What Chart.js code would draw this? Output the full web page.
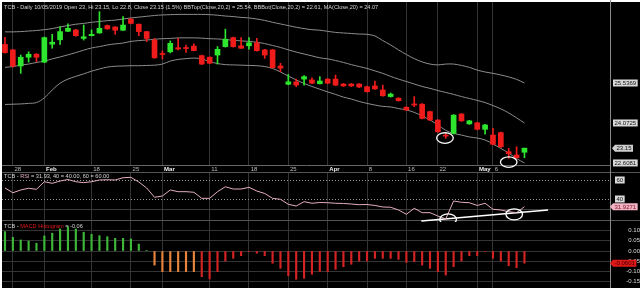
<!DOCTYPE html>
<html>
<head>
<meta charset="utf-8">
<script src="https://cdn.jsdelivr.net/npm/chart.js@4.4.1/dist/chart.umd.min.js"></script>
<style>
  html, body { margin: 0; padding: 0; background: #fff; }
  #frame { position: absolute; left: 2px; top: 2px; width: 638px; height: 286px; background: #000; }
  canvas { position: absolute; left: 0; }
</style>
</head>
<body>
<div id="frame"></div>
<canvas id="priceChart" width="640" height="174" style="top:0"></canvas>
<canvas id="rsiChart" width="640" height="50" style="top:172px"></canvas>
<canvas id="macdChart" width="640" height="66" style="top:222px"></canvas>
<script>
// date axis: trading-day index of each labelled gridline
const tickIdx = [1, 5, 11, 16, 20, 26, 31, 36, 41, 46, 51, 55, 60, 62];
const tickText = ['28', 'Feb', '18', '25', 'Mar', '11', '18', '25', 'Apr', '8', '16', '22', 'May', '6'];

// TCB daily, 25/01/2019 .. 10/05/2019
const opens = [26.95, 26.75, 26.16, 26.48, 26.59, 26.30, 26.96, 27.12, 27.43, 27.48,
  27.17, 27.27, 27.37, 27.64, 27.59, 27.47, 27.88, 27.69, 27.42, 27.11,
  26.60, 26.68, 26.83, 26.82, 26.89, 26.54, 26.48, 26.56, 26.87, 27.20,
  26.90, 26.90, 27.01, 26.75, 26.75, 26.16, 25.49, 25.58, 25.68, 25.65,
  25.51, 25.68, 25.68, 25.50, 25.50, 25.50, 25.40, 25.43, 25.28, 25.04,
  24.98, 24.65, 24.77, 24.76, 24.49, 24.18, 23.63, 23.69, 24.40, 24.04,
  24.08, 23.84, 23.63, 23.72, 23.02, 22.90, 23.00];
const highs = [27.21, 26.77, 26.56, 26.68, 26.62, 27.22, 27.32, 27.60, 27.70, 27.50,
  27.66, 27.48, 28.15, 27.66, 27.60, 27.97, 27.90, 27.70, 27.43, 27.17,
  26.71, 27.08, 27.17, 26.93, 26.97, 26.56, 26.50, 26.87, 27.51, 27.22,
  27.20, 27.20, 27.17, 26.77, 26.77, 26.26, 25.85, 25.68, 25.81, 25.73,
  25.77, 25.70, 25.83, 25.52, 25.52, 25.52, 25.42, 25.61, 25.46, 25.17,
  25.00, 24.67, 25.04, 24.78, 24.51, 24.20, 23.69, 24.38, 24.42, 24.17,
  24.10, 24.02, 23.88, 23.74, 23.14, 23.20, 23.15];
const lows = [26.63, 26.12, 25.89, 26.30, 26.32, 26.28, 26.81, 26.95, 27.42, 27.25,
  27.11, 27.26, 27.36, 27.50, 27.32, 27.46, 27.70, 27.27, 27.05, 26.44,
  26.42, 26.64, 26.75, 26.66, 26.71, 26.21, 26.24, 26.23, 26.85, 26.85,
  26.80, 26.78, 26.70, 26.44, 26.08, 25.95, 25.47, 25.40, 25.46, 25.51,
  25.50, 25.51, 25.44, 25.41, 25.41, 25.37, 25.20, 25.30, 25.05, 25.02,
  24.87, 24.53, 24.67, 24.22, 24.16, 23.73, 23.51, 23.67, 24.13, 24.02,
  23.82, 23.66, 23.27, 23.18, 22.78, 22.78, 22.80];
const closes = [26.65, 26.16, 26.48, 26.59, 26.48, 27.20, 27.03, 27.42, 27.54, 27.27,
  27.23, 27.32, 27.54, 27.52, 27.47, 27.66, 27.72, 27.42, 27.17, 26.46,
  26.58, 26.99, 26.78, 26.80, 26.72, 26.23, 26.26, 26.77, 27.14, 26.87,
  26.81, 27.01, 26.72, 26.56, 26.10, 26.08, 25.58, 25.46, 25.77, 25.53,
  25.61, 25.53, 25.46, 25.43, 25.43, 25.39, 25.22, 25.32, 25.07, 25.13,
  24.89, 24.55, 24.73, 24.24, 24.18, 23.75, 23.59, 24.36, 24.15, 24.15,
  23.84, 24.00, 23.29, 23.20, 22.95, 22.80, 23.15];

// Bollinger(20,2)
const bbTop = [27.41, 27.41, 27.42, 27.44, 27.46, 27.49, 27.53, 27.59, 27.64, 27.69,
  27.72, 27.76, 27.79, 27.82, 27.84, 27.88, 27.92, 27.95, 27.98, 28.01,
  28.03, 28.04, 28.05, 28.05, 28.05, 28.05, 28.04, 28.02, 27.99, 27.97,
  27.94, 27.92, 27.88, 27.83, 27.76, 27.70, 27.64, 27.58, 27.53, 27.49,
  27.47, 27.43, 27.39, 27.37, 27.35, 27.33, 27.32, 27.26, 27.09, 26.93,
  26.75, 26.58, 26.43, 26.31, 26.23, 26.20, 26.23, 26.23, 26.18, 26.11,
  26.01, 25.94, 25.89, 25.83, 25.76, 25.67, 25.5369];
const bbMid = [26.11, 26.14, 26.19, 26.23, 26.29, 26.34, 26.42, 26.49, 26.57, 26.65,
  26.74, 26.82, 26.87, 26.93, 26.97, 27.00, 27.06, 27.09, 27.11, 27.14,
  27.16, 27.17, 27.19, 27.19, 27.19, 27.18, 27.16, 27.15, 27.13, 27.10,
  27.08, 27.06, 27.03, 26.98, 26.91, 26.84, 26.75, 26.67, 26.60, 26.53,
  26.46, 26.42, 26.36, 26.29, 26.21, 26.14, 26.07, 25.98, 25.89, 25.78,
  25.68, 25.59, 25.50, 25.41, 25.34, 25.26, 25.19, 25.12, 25.04, 24.97,
  24.90, 24.82, 24.71, 24.59, 24.44, 24.26, 24.0725];
const bbBot = [24.75, 24.76, 24.77, 24.79, 24.82, 24.99, 25.28, 25.53, 25.68, 25.78,
  25.87, 25.97, 26.05, 26.12, 26.15, 26.16, 26.17, 26.17, 26.18, 26.19,
  26.23, 26.34, 26.40, 26.43, 26.45, 26.42, 26.32, 26.25, 26.21, 26.20,
  26.19, 26.18, 26.17, 26.14, 26.07, 25.94, 25.79, 25.65, 25.52, 25.41,
  25.31, 25.21, 25.12, 25.02, 24.95, 24.86, 24.79, 24.73, 24.68, 24.66,
  24.60, 24.55, 24.46, 24.33, 24.18, 24.00, 23.80, 23.69, 23.63, 23.56,
  23.52, 23.45, 23.30, 23.14, 22.97, 22.77, 22.6081];

const rsi = [51.6, 46.6, 49.5, 51.3, 50.2, 58.2, 56.5, 58.9, 60.5, 58.2,
  57.2, 58.2, 60.0, 60.3, 60.0, 62.4, 62.8, 57.9, 51.6, 41.8,
  43.2, 49.5, 47.7, 47.7, 47.1, 40.7, 40.7, 47.7, 52.9, 50.5,
  50.5, 52.3, 48.4, 45.8, 40.7, 39.7, 34.4, 32.6, 37.2, 35.5,
  36.3, 36.1, 35.5, 35.3, 34.7, 34.0, 34.2, 33.2, 31.6, 31.3,
  28.4, 23.9, 30.2, 25.6, 25.6, 22.1, 19.0, 37.9, 36.5, 36.1,
  33.2, 35.5, 29.2, 28.4, 26.6, 25.6, 31.9271];
const rsiLevels = [60, 40];

const macdHist = [0.095, 0.067, 0.054, 0.049, 0.038, 0.074, 0.087, 0.108, 0.119, 0.108,
  0.092, 0.082, 0.075, 0.070, 0.062, 0.062, 0.059, 0.034, 0.002, -0.069,
  -0.101, -0.101, -0.101, -0.101, -0.101, -0.126, -0.137, -0.101, -0.049, -0.036,
  -0.023, -0.003, -0.011, -0.023, -0.060, -0.085, -0.121, -0.139, -0.134, -0.114,
  -0.100, -0.101, -0.090, -0.077, -0.065, -0.049, -0.049, -0.036, -0.036, -0.036,
  -0.041, -0.056, -0.052, -0.069, -0.085, -0.101, -0.118, -0.077, -0.049, -0.023,
  -0.023, -0.003, -0.036, -0.049, -0.072, -0.082, -0.0601];
const macdTicks = [0.10, 0.05, 0.00, -0.05, -0.10, -0.15];

// hand-drawn marks on the original: circles at lows and an RSI trend line
const priceMarks = [[55.9, 23.52], [64.0, 22.64]];
const rsiMarks = [[56.3, 18.6], [64.7, 23.9]];
const rsiTrend = [[52.9, 16.8], [69.0, 28.4]];

const FONT = '"Liberation Sans", Arial, sans-serif';
const TITLE_FONT = '5.6px ' + FONT;
const X_MIN = -0.38, X_MAX = 76.87;
const GRID = '#343434';

Chart.defaults.font.family = FONT;
Chart.defaults.animation = false;

const candleColors = opens.map((o, i) => closes[i] >= o ? '#2ee62e' : '#f01c1c');
const macdColors = macdHist.map((v, i) => v >= 0 ? '#3fb83a' : (i < 25 ? '#e8843c' : '#d42323'));

function xScale(showLabels) {
  return {
    type: 'linear', min: X_MIN, max: X_MAX, offset: false,
    afterBuildTicks: s => { s.ticks = tickIdx.map(v => ({ value: v })); },
    afterFit: s => { s.height = showLabels ? 9 : 0; },
    grid: { color: GRID, lineWidth: 1, drawTicks: false, offset: false },
    border: { display: showLabels, color: '#666' },
    ticks: {
      display: showLabels, autoSkip: false, maxRotation: 0, align: 'start', padding: 1,
      callback: (v, i) => ' ' + tickText[i],
      color: ctx => /[A-Za-z]/.test(tickText[ctx.index]) ? '#f0f0f0' : '#bdbdbd',
      font: ctx => ({ size: 6, weight: /[A-Za-z]/.test(tickText[ctx.index]) ? 'bold' : 'normal' })
    }
  };
}

function drawTag(ctx, text, x, y, bg, fg, arrow) {
  ctx.save();
  ctx.font = '6px ' + FONT;
  const w = ctx.measureText(text).width + 3, h = 7;
  ctx.fillStyle = bg;
  ctx.beginPath();
  if (arrow) {
    ctx.moveTo(x - 3, y);
    ctx.lineTo(x, y - h / 2);
    ctx.lineTo(x + w, y - h / 2);
    ctx.lineTo(x + w, y + h / 2);
    ctx.lineTo(x, y + h / 2);
    ctx.closePath();
  } else {
    ctx.rect(x, y - h / 2, w, h);
  }
  ctx.fill();
  ctx.fillStyle = fg;
  ctx.textAlign = 'left';
  ctx.textBaseline = 'middle';
  ctx.fillText(text, x + 1.5, y + 0.5);
  ctx.restore();
}

function drawTitle(ctx, parts, y) {
  ctx.save();
  ctx.font = TITLE_FONT;
  ctx.textBaseline = 'middle';
  let x = 4;
  parts.forEach(([t, c]) => {
    ctx.fillStyle = c;
    ctx.fillText(t, x, y);
    x += ctx.measureText(t).width;
  });
  ctx.restore();
}

function drawRings(chart, marks, rx, ry) {
  const { ctx, scales } = chart;
  ctx.save();
  ctx.strokeStyle = '#ffffff';
  ctx.lineWidth = 1.3;
  marks.forEach(([i, v]) => {
    ctx.beginPath();
    ctx.ellipse(scales.x.getPixelForValue(i), scales.y.getPixelForValue(v), rx, ry, 0, 0, Math.PI * 2);
    ctx.stroke();
  });
  ctx.restore();
}

function drawDivider(chart) {
  const { ctx, chartArea } = chart;
  ctx.save();
  ctx.strokeStyle = '#8a8a8a';
  ctx.lineWidth = 1;
  ctx.beginPath();
  ctx.moveTo(chartArea.right + 0.5, 0);
  ctx.lineTo(chartArea.right + 0.5, chart.height);
  ctx.stroke();
  ctx.restore();
}

// price panel
new Chart(document.getElementById('priceChart'), {
  type: 'bar',
  data: {
    datasets: [
      {
        data: opens.map((o, i) => ({ x: i, y: [o, closes[i]] })),
        backgroundColor: candleColors, barThickness: 5, minBarLength: 1, grouped: false
      },
      {
        data: lows.map((l, i) => ({ x: i, y: [l, highs[i]] })),
        backgroundColor: candleColors, barThickness: 1, grouped: false
      },
      { type: 'line', data: bbTop.map((v, i) => ({ x: i, y: v })), borderColor: '#8d8d8d', borderWidth: 1, pointRadius: 0, tension: 0.35 },
      { type: 'line', data: bbMid.map((v, i) => ({ x: i, y: v })), borderColor: '#8d8d8d', borderWidth: 1, pointRadius: 0, tension: 0.35 },
      { type: 'line', data: bbBot.map((v, i) => ({ x: i, y: v })), borderColor: '#8d8d8d', borderWidth: 1, pointRadius: 0, tension: 0.35 }
    ]
  },
  options: {
    responsive: false,
    layout: { padding: { left: 2, right: 30, top: 2, bottom: 0 } },
    plugins: { legend: { display: false }, tooltip: { enabled: false } },
    scales: {
      x: xScale(true),
      y: { display: false, min: 22.533, max: 28.504 }
    }
  },
  plugins: [{
    id: 'priceDecor',
    afterDraw(chart) {
      const { ctx, scales } = chart;
      const n = closes.length - 1;
      drawTitle(ctx, [['TCB - Daily 10/05/2019 Open ' + opens[n] + ', Hi ' + highs[n] + ', Lo ' + lows[n] +
        ', Close ' + closes[n] + ' (1.5%) BBTop(Close,20,2) = ' + bbTop[n].toFixed(2) +
        ', BBBot(Close,20,2) = ' + bbBot[n].toFixed(2) + ', MA(Close,20) = ' + bbMid[n].toFixed(2), '#d4d4d4']], 7);
      drawRings(chart, priceMarks, 8.3, 5.3);
      drawDivider(chart);
      const y = v => scales.y.getPixelForValue(v);
      drawTag(ctx, bbTop[n].toFixed(4), 613, y(bbTop[n]), '#d9d9d9', '#111', false);
      drawTag(ctx, bbMid[n].toFixed(4), 613, y(bbMid[n]), '#d9d9d9', '#111', false);
      drawTag(ctx, closes[n].toFixed(2), 615, y(closes[n]), '#cfcfcf', '#111', true);
      drawTag(ctx, bbBot[n].toFixed(4), 613, y(bbBot[n]), '#d9d9d9', '#111', false);
    }
  }]
});

// RSI panel
new Chart(document.getElementById('rsiChart'), {
  type: 'line',
  data: {
    datasets: [
      { data: rsi.map((v, i) => ({ x: i, y: v })), borderColor: '#e3aebd', borderWidth: 1, pointRadius: 0, tension: 0 },
      { data: rsiTrend.map(([i, v]) => ({ x: i, y: v })), borderColor: '#ffffff', borderWidth: 1.5, pointRadius: 0 }
    ]
  },
  options: {
    responsive: false,
    layout: { padding: { left: 2, right: 30, top: 0, bottom: 0 } },
    plugins: { legend: { display: false }, tooltip: { enabled: false } },
    scales: {
      x: xScale(false),
      y: { display: false, min: 15.79, max: 68.42 }
    }
  },
  plugins: [{
    id: 'rsiDecor',
    beforeDatasetsDraw(chart) {
      const { ctx, chartArea, scales } = chart;
      ctx.save();
      ctx.lineWidth = 1;
      ctx.strokeStyle = '#9a9a9a';
      ctx.setLineDash([1, 2]);
      rsiLevels.forEach(v => {
        const y = Math.round(scales.y.getPixelForValue(v)) + 0.5;
        ctx.beginPath(); ctx.moveTo(chartArea.left, y); ctx.lineTo(chartArea.right, y); ctx.stroke();
      });
      ctx.setLineDash([]);
      ctx.strokeStyle = '#3c3c3c';
      const y30 = Math.round(scales.y.getPixelForValue(30)) + 0.5;
      ctx.beginPath(); ctx.moveTo(chartArea.left, y30); ctx.lineTo(chartArea.right, y30); ctx.stroke();
      ctx.strokeStyle = '#555';
      ctx.beginPath(); ctx.moveTo(2, 0.5); ctx.lineTo(640, 0.5); ctx.stroke();
      ctx.beginPath(); ctx.moveTo(2, chart.height - 1.5); ctx.lineTo(640, chart.height - 1.5); ctx.stroke();
      ctx.restore();
    },
    afterDraw(chart) {
      const { ctx, scales } = chart;
      const n = rsi.length - 1;
      drawTitle(ctx, [['TCB - ', '#d4d4d4'], ['RSI', '#e3aebd'],
        [' = ' + rsi[n].toFixed(2) + ', 40 = 40.00, 60 = 60.00', '#d4d4d4']], 4.5);
      drawRings(chart, rsiMarks, 8.3, 5.5);
      drawDivider(chart);
      rsiLevels.forEach(v => drawTag(ctx, String(v), 615, scales.y.getPixelForValue(v), '#d9d9d9', '#111', false));
      drawTag(ctx, rsi[n].toFixed(4), 613, scales.y.getPixelForValue(rsi[n]), '#f2b3c4', '#7a1020', true);
    }
  }]
});

// MACD histogram panel
new Chart(document.getElementById('macdChart'), {
  type: 'bar',
  data: {
    datasets: [{
      data: macdHist.map((v, i) => ({ x: i, y: v })),
      backgroundColor: macdColors, barThickness: 1.5, grouped: false
    }]
  },
  options: {
    responsive: false,
    layout: { padding: { left: 2, right: 0, top: 0, bottom: 0 } },
    plugins: { legend: { display: false }, tooltip: { enabled: false } },
    scales: {
      x: xScale(false),
      y: {
        position: 'right', min: -0.1814, max: 0.1422,
        afterBuildTicks: s => { s.ticks = macdTicks.map(v => ({ value: v })); },
        afterFit: s => { s.width = 30; s.paddingTop = 0; s.paddingBottom = 0; },
        grid: { color: GRID, drawTicks: false },
        border: { display: false },
        ticks: { color: '#d8d8d8', font: { size: 6 }, crossAlign: 'far', padding: 13, callback: v => v.toFixed(2) }
      }
    }
  },
  plugins: [{
    id: 'macdDecor',
    afterDraw(chart) {
      const { ctx, scales } = chart;
      const n = macdHist.length - 1;
      drawTitle(ctx, [['TCB - ', '#d4d4d4'], ['MACD Histogram', '#e01818'],
        [' = ' + macdHist[n].toFixed(2), '#d4d4d4']], 4);
      drawDivider(chart);
      drawTag(ctx, macdHist[n].toFixed(4), 613, scales.y.getPixelForValue(macdHist[n]), '#e01818', '#3a0000', true);
    }
  }]
});
</script>
</body>
</html>
